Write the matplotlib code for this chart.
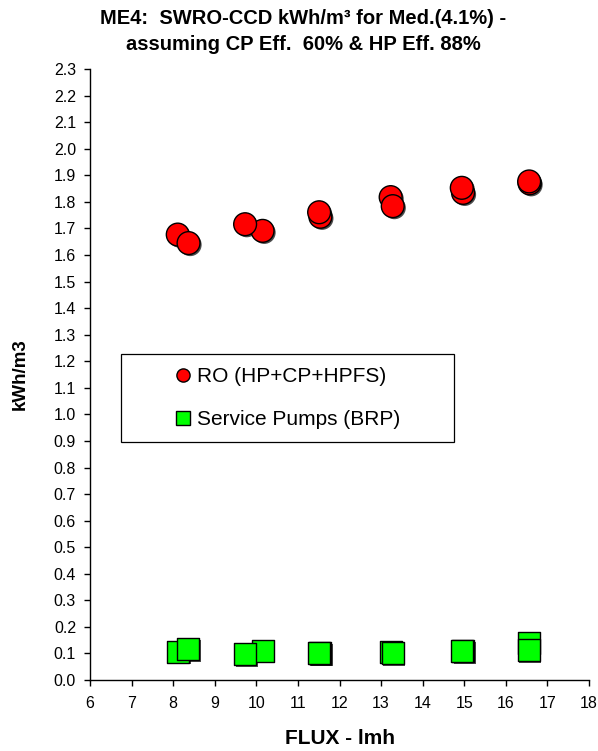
import matplotlib
matplotlib.use("Agg")
import matplotlib.pyplot as plt
import matplotlib.patheffects as pe
from matplotlib.patches import Rectangle
from matplotlib.lines import Line2D

plt.rcParams['font.family'] = ['Liberation Sans', 'DejaVu Sans']

# RO (HP+CP+HPFS) energy, kWh/m3 vs flux (lmh); drawing order = list order
ro_flux = [8.11, 8.37, 10.15, 9.73, 11.54, 11.51, 13.23, 13.28, 14.97, 14.94, 16.57, 16.56]
ro_kwh = [1.677, 1.645, 1.691, 1.716, 1.744, 1.761, 1.818, 1.784, 1.834, 1.853, 1.870, 1.877]

# Service pumps (BRP) energy, kWh/m3
sp_flux = [8.12, 8.36, 10.15, 9.73, 11.53, 11.51, 13.23, 13.28, 14.97, 14.95, 16.55, 16.55]
sp_kwh = [0.107, 0.116, 0.110, 0.098, 0.102, 0.100, 0.107, 0.102, 0.108, 0.110, 0.138, 0.113]

x_ticks = list(range(6, 19))
y_ticks = [i / 10 for i in range(0, 24)]

title_lines = ["ME4:  SWRO-CCD kWh/m\u00b3 for Med.(4.1%) -",
               "assuming CP Eff.  60% & HP Eff. 88%"]
legend_labels = ["RO (HP+CP+HPFS)", "Service Pumps (BRP)"]

fig = plt.figure(figsize=(5.98, 7.51), dpi=100)
ax = fig.add_axes([0.1505, 0.0945, 0.8345, 0.8135])

shadow = [pe.SimplePatchShadow(offset=(1.2, -1.2), shadow_rgbFace='black', alpha=0.7), pe.Normal()]

ax.scatter(ro_flux, ro_kwh, s=270, marker='o', facecolor='#ff0000', edgecolor='black',
           linewidths=1.0, zorder=3, path_effects=shadow)
ax.scatter(sp_flux, sp_kwh, s=250, marker='s', facecolor='#00ff00', edgecolor='black',
           linewidths=1.0, zorder=3, path_effects=shadow)

ax.set_xlim(6, 18)
ax.set_ylim(0, 2.3)
ax.set_xticks(x_ticks)
ax.set_yticks(y_ticks)
ax.set_xticklabels([str(t) for t in x_ticks])
ax.set_yticklabels([f"{t:.1f}" for t in y_ticks])
ax.tick_params(axis='both', direction='out', length=4, width=1, labelsize=11.5, colors='black')
ax.tick_params(axis='x', pad=7.5)
ax.tick_params(axis='y', pad=6)
for s in ['top', 'right']:
    ax.spines[s].set_visible(False)
for s in ['left', 'bottom']:
    ax.spines[s].set_linewidth(1.0)

ax.set_xlabel("FLUX - lmh", fontsize=15, fontweight='bold', labelpad=13)
ax.set_ylabel("kWh/m3", fontsize=13.5, fontweight='bold', labelpad=18)

fig.text(0.507, 0.975, title_lines[0], ha='center', va='center', fontsize=14.5, fontweight='bold')
fig.text(0.507, 0.941, title_lines[1], ha='center', va='center', fontsize=14.5, fontweight='bold')

# legend box
ax.add_patch(Rectangle((0.062, 0.3895), 0.667, 0.144, transform=ax.transAxes,
                       facecolor='white', edgecolor='black', linewidth=0.9, zorder=4))
handles = [
    Line2D([], [], marker='o', linestyle='none', markersize=9.5, markerfacecolor='#ff0000',
           markeredgecolor='black', markeredgewidth=1.0),
    Line2D([], [], marker='s', linestyle='none', markersize=9.5, markerfacecolor='#00ff00',
           markeredgecolor='black', markeredgewidth=1.0),
]
leg = ax.legend(handles, legend_labels, loc='center', bbox_to_anchor=(0.396, 0.4615),
                bbox_transform=ax.transAxes, frameon=False, fontsize=15,
                handlelength=0.8, handletextpad=0.3, labelspacing=1.15)
leg.set_zorder(5)

fig.savefig("out.png", dpi=100)
